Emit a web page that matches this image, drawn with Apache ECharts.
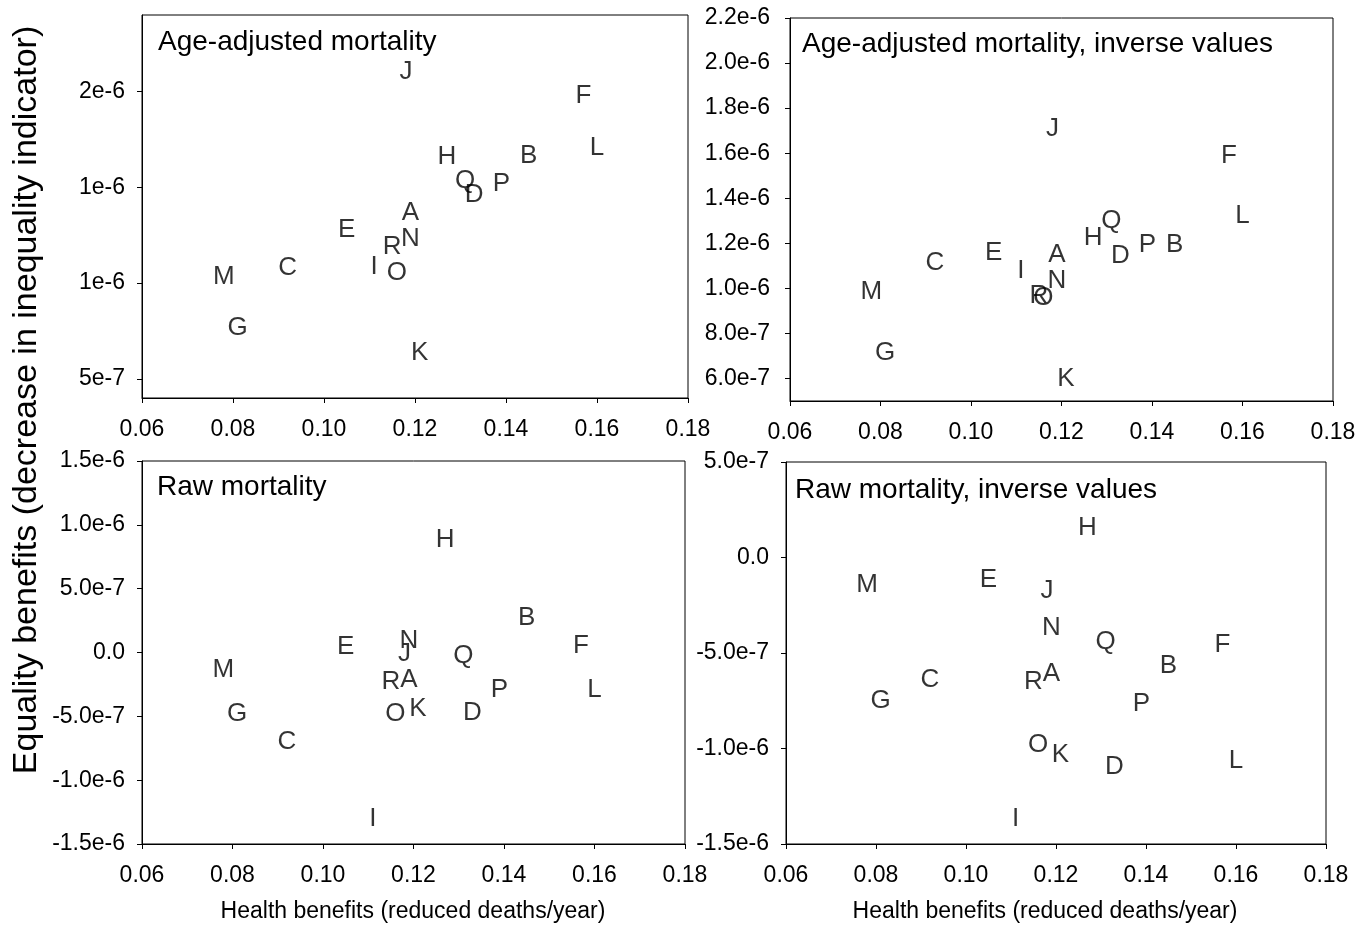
<!DOCTYPE html>
<html>
<head>
<meta charset="utf-8">
<script src="https://cdn.jsdelivr.net/npm/echarts@6/dist/echarts.min.js"></script>
<style>
html,body{margin:0;padding:0;background:#fff;}
#main{width:1371px;height:929px;}
</style>
</head>
<body>
<div id="main"></div>
<script>
var letters = ['A','B','C','D','E','F','G','H','I','J','K','L','M','N','O','P','Q','R'];
// health benefits (reduced deaths/year), same for every panel
var healthBenefit = [0.119,0.145,0.092,0.133,0.105,0.157,0.081,0.127,0.111,0.118,0.121,0.160,0.078,0.119,0.116,0.139,0.131,0.115];
// equality benefits per panel
var ageAdjusted = [1.367e-6,1.664e-6,1.079e-6,1.463e-6,1.28e-6,1.98e-6,7.64e-7,1.659e-6,1.087e-6,2.105e-6,6.36e-7,1.708e-6,1.035e-6,1.231e-6,1.056e-6,1.516e-6,1.533e-6,1.187e-6];
var ageAdjustedInv = [1.151e-6,1.191e-6,1.114e-6,1.146e-6,1.158e-6,1.589e-6,7.16e-7,1.225e-6,1.08e-6,1.706e-6,5.98e-7,1.32e-6,9.83e-7,1.035e-6,9.56e-7,1.194e-6,1.299e-6,9.68e-7];
var rawMort = [-2.16e-7,2.72e-7,-6.99e-7,-4.72e-7,4.4e-8,5.2e-8,-4.77e-7,8.79e-7,-1.299e-6,-1e-8,-4.38e-7,-2.94e-7,-1.33e-7,8.9e-8,-4.77e-7,-2.94e-7,-2.6e-8,-2.29e-7];
var rawMortInv = [-6.09e-7,-5.69e-7,-6.41e-7,-1.095e-6,-1.17e-7,-4.57e-7,-7.49e-7,1.56e-7,-1.369e-6,-1.72e-7,-1.032e-6,-1.067e-6,-1.41e-7,-3.68e-7,-9.79e-7,-7.66e-7,-4.4e-7,-6.53e-7];

// y tick values and the labels printed next to them
var tlTicks = [5e-7,1e-6,1.5e-6,2e-6], tlLabels = ['5e-7','1e-6','1e-6','2e-6'];
var trTicks = [6e-7,8e-7,1e-6,1.2e-6,1.4e-6,1.6e-6,1.8e-6,2e-6,2.2e-6];
var trLabels = ['6.0e-7','8.0e-7','1.0e-6','1.2e-6','1.4e-6','1.6e-6','1.8e-6','2.0e-6','2.2e-6'];
var blTicks = [-1.5e-6,-1e-6,-5e-7,0,5e-7,1e-6,1.5e-6];
var blLabels = ['-1.5e-6','-1.0e-6','-5.0e-7','0.0','5.0e-7','1.0e-6','1.5e-6'];
var brTicks = [-1.5e-6,-1e-6,-5e-7,0,5e-7];
var brLabels = ['-1.5e-6','-1.0e-6','-5.0e-7','0.0','5.0e-7'];

var FONT = 'Liberation Sans, Arial, sans-serif';
var myChart = echarts.init(document.getElementById('main'));

function pts(ys){
  var out = [];
  for(var i=0;i<letters.length;i++){
    out.push({name: letters[i], value: [healthBenefit[i], ys[i]]});
  }
  return out;
}
function yAx(idx, min, max, ticks, labels, margin){
  return {
    type:'value', gridIndex: idx, min: min, max: max,
    splitLine:{show:false},
    axisLine:{show:true, onZero:false, lineStyle:{color:'#000', width:1}},
    axisTick:{show:true, length:5, customValues: ticks, lineStyle:{color:'#000'}},
    axisLabel:{
      customValues: ticks, margin: margin, color:'#000', fontSize:23, fontFamily: FONT,
      formatter: function(v){
        for(var i=0;i<ticks.length;i++){ if(Math.abs(v-ticks[i])<1e-12) return labels[i]; }
        return '';
      }
    }
  };
}
function xAx(idx){
  return {
    type:'value', gridIndex: idx, min:0.06, max:0.18, interval:0.02,
    splitLine:{show:false},
    axisLine:{show:true, onZero:false, lineStyle:{color:'#000', width:1}},
    axisTick:{show:true, length:5, lineStyle:{color:'#000'}},
    axisLabel:{margin:20, color:'#000', fontSize:23, fontFamily: FONT,
      formatter:function(v){ return v.toFixed(2); }}
  };
}
function ser(idx, ys){
  return {
    type:'scatter', xAxisIndex: idx, yAxisIndex: idx,
    symbol:'circle', symbolSize:1, itemStyle:{color:'rgba(0,0,0,0)'},
    label:{show:true, position:'inside', formatter:'{b}', color:'#000', fontSize:26, fontFamily: FONT},
    data: pts(ys)
  };
}
function ttl(text, left, top){
  return {text:text, left:left, top:top, padding:0,
    textStyle:{fontSize:28, fontWeight:'normal', color:'#000', fontFamily: FONT}};
}

option = {
  animation:false,
  backgroundColor:'#fff',
  title:[
    ttl('Age-adjusted mortality', 158, 28),
    ttl('Age-adjusted mortality, inverse values', 802, 30),
    ttl('Raw mortality', 157, 473),
    ttl('Raw mortality, inverse values', 795, 476)
  ],
  grid:[
    {left:142, top:15, width:546, height:383, show:true, borderColor:'#000', borderWidth:1},
    {left:790, top:18, width:543, height:383, show:true, borderColor:'#000', borderWidth:1},
    {left:142, top:461, width:543, height:383, show:true, borderColor:'#000', borderWidth:1},
    {left:786, top:462, width:540, height:382, show:true, borderColor:'#000', borderWidth:1}
  ],
  xAxis:[xAx(0), xAx(1), xAx(2), xAx(3)],
  yAxis:[
    yAx(0, 4e-7, 2.4e-6, tlTicks, tlLabels, 17),
    yAx(1, 5e-7, 2.2e-6, trTicks, trLabels, 20),
    yAx(2, -1.5e-6, 1.5e-6, blTicks, blLabels, 17),
    yAx(3, -1.5e-6, 5e-7, brTicks, brLabels, 17)
  ],
  series:[ser(0, ageAdjusted), ser(1, ageAdjustedInv), ser(2, rawMort), ser(3, rawMortInv)],
  graphic:[
    {type:'text', x:27, y:400, rotation:Math.PI/2,
      style:{text:'Equality benefits (decrease in inequality indicator)', fontSize:34, fontFamily: FONT,
        fill:'#000', align:'center', verticalAlign:'middle'}},
    {type:'text', x:413, y:912,
      style:{text:'Health benefits (reduced deaths/year)', fontSize:23, fontFamily: FONT,
        fill:'#000', align:'center', verticalAlign:'middle'}},
    {type:'text', x:1045, y:912,
      style:{text:'Health benefits (reduced deaths/year)', fontSize:23, fontFamily: FONT,
        fill:'#000', align:'center', verticalAlign:'middle'}}
  ]
};
myChart.setOption(option, true);
</script>
</body>
</html>
